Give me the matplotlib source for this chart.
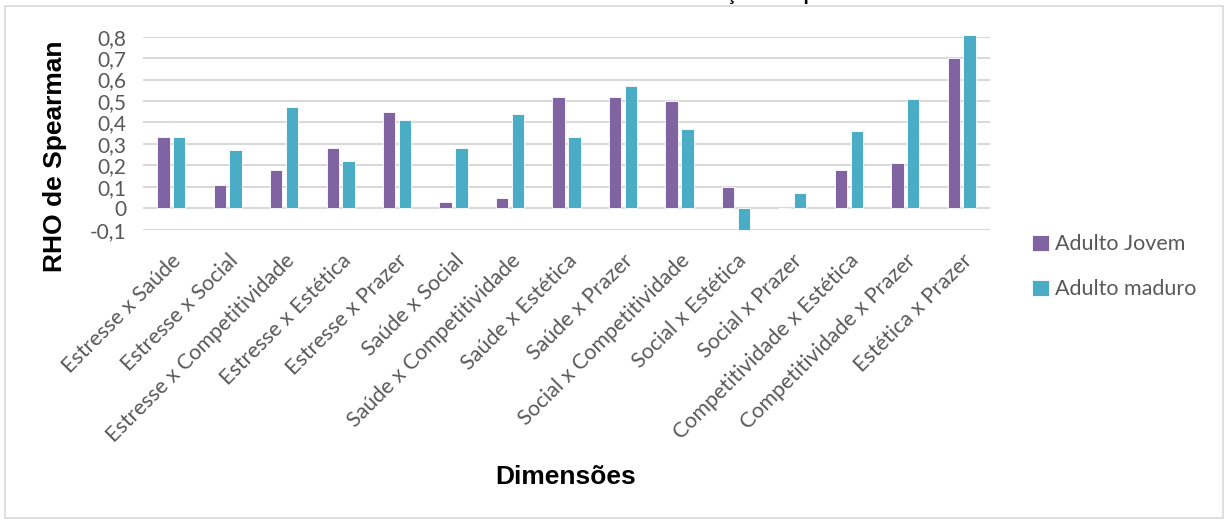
import numpy as np
import matplotlib.pyplot as plt
from matplotlib.patches import Rectangle

categorias = ['Estresse x Saúde', 'Estresse x Social', 'Estresse x Competitividade',
              'Estresse x Estética', 'Estresse x Prazer', 'Saúde x Social',
              'Saúde x Competitividade', 'Saúde x Estética', 'Saúde x Prazer',
              'Social x Competitividade', 'Social x Estética', 'Social x Prazer',
              'Competitividade x Estética', 'Competitividade x Prazer', 'Estética x Prazer']
adulto_jovem = [0.33, 0.11, 0.18, 0.28, 0.45, 0.03, 0.05, 0.52, 0.52, 0.50, 0.10, 0.0, 0.18, 0.21, 0.70]
adulto_maduro = [0.33, 0.27, 0.47, 0.22, 0.41, 0.28, 0.44, 0.33, 0.57, 0.37, -0.10, 0.07, 0.36, 0.51, 0.81]
yticks = np.round(np.arange(-0.1, 0.81, 0.1), 1)

roxo = '#8064A2'
azul = '#4BACC6'
cinza = '#595959'

W, H = 1225, 521
fig = plt.figure(figsize=(W / 100, H / 100), dpi=100)

# moldura do gráfico
fig.patches.append(Rectangle((4.5 / W, 3 / H), 1218 / W, 512 / H, transform=fig.transFigure,
                             fill=False, edgecolor='#D9D9D9', linewidth=1.2))

ax = fig.add_axes([143 / W, 1 - 229.7 / H, (990 - 143) / W, 193 / H])
x = np.arange(len(categorias))
larg = 0.22
ax.bar(x - 0.14, adulto_jovem, larg, color=roxo, edgecolor='white', linewidth=0.6,
       label='Adulto Jovem', zorder=3, clip_on=False)
ax.bar(x + 0.14, adulto_maduro, larg, color=azul, edgecolor='white', linewidth=0.6,
       label='Adulto maduro', zorder=3, clip_on=False)

ax.set_xlim(-0.5, len(categorias) - 0.5)
ax.set_ylim(-0.1, 0.8)
ax.set_yticks(yticks)
ax.set_yticklabels([('%g' % v).replace('.', ',') for v in yticks],
                   fontsize=15, color=cinza, family='Lato')
ax.set_xticks(x)
ax.set_xticklabels(categorias, rotation=45, ha='right', rotation_mode='anchor',
                   fontsize=15.5, color=cinza, family='Lato')
ax.tick_params(axis='both', length=0)
ax.tick_params(axis='y', pad=12)
ax.tick_params(axis='x', pad=15)
for s in ax.spines.values():
    s.set_visible(False)
ax.yaxis.grid(True, color='#D9D9D9', linewidth=1.5, zorder=0)
ax.set_axisbelow(True)

fig.text(55 / W, 1 - 156 / H, 'RHO de Spearman', rotation=90, ha='center', va='center',
         fontsize=19, fontweight='bold', family='Liberation Sans')
fig.text(566 / W, 1 - 477 / H, 'Dimensões', ha='center', va='center',
         fontsize=19, fontweight='bold', family='Liberation Sans')
# título (fica cortado no topo)
fig.text(771 / W, 1.0, 'Correlação de Spearman', ha='center', va='baseline',
         fontsize=13.5, fontweight='bold', family='Liberation Sans')

leg = fig.legend(loc='upper left', bbox_to_anchor=(1013 / W, 1 - 215 / H), frameon=False,
                 handlelength=0.75, handleheight=0.75, handletextpad=0.3, labelspacing=1.15,
                 prop={'family': 'Lato', 'size': 15.5})
for t in leg.get_texts():
    t.set_color(cinza)

fig.savefig('out.png', dpi=100)
